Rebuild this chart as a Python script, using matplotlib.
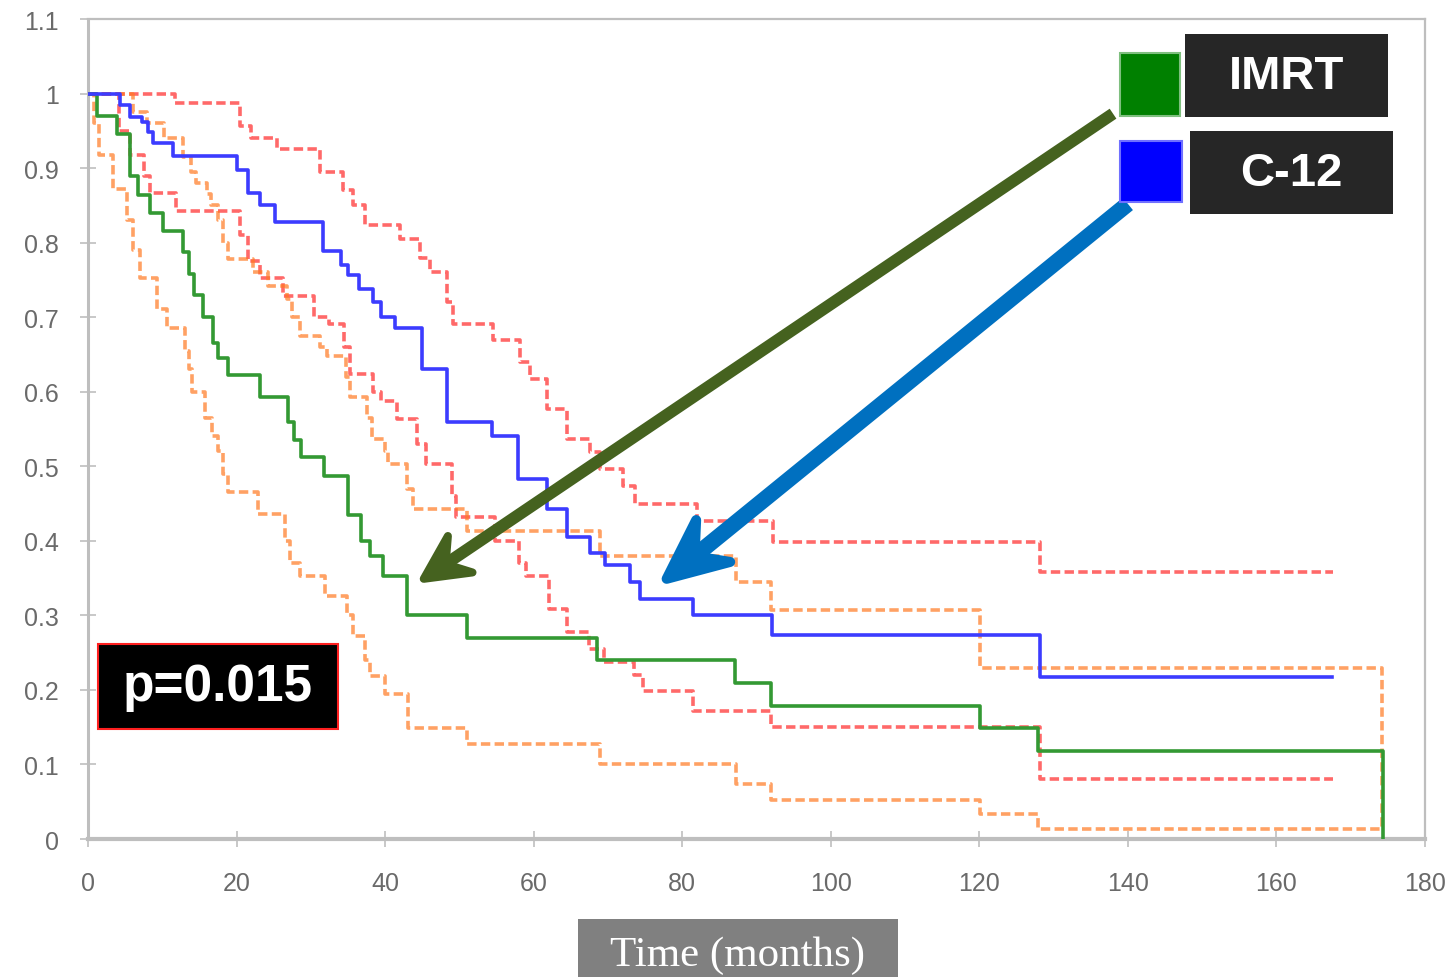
import numpy as np
import matplotlib.pyplot as plt
from matplotlib.patches import Rectangle, Polygon

plt.rcParams['font.family'] = ['Liberation Sans', 'DejaVu Sans']

# Kaplan-Meier estimates (months, survival) with confidence limits
imrt_t = [0, 1.2, 3.9, 5.7, 6.7, 8.3, 10.1, 12.8, 13.6, 14.3, 15.5, 16.8, 17.5, 18.8, 23.2, 26.9,
          27.7, 28.7, 31.8, 35.0, 36.8, 37.9, 39.7, 43.0, 51.0, 68.5, 87.1, 92.0, 120.1, 127.9, 174.3]
imrt_s = [1.0, 0.97, 0.946, 0.89, 0.864, 0.84, 0.815, 0.788, 0.758, 0.73, 0.70, 0.665, 0.645, 0.622, 0.593, 0.56,
          0.535, 0.513, 0.487, 0.434, 0.40, 0.38, 0.353, 0.30, 0.27, 0.24, 0.209, 0.179, 0.149, 0.118, 0.0]

imrt_hi_t = [0, 6.1, 7.9, 10.2, 12.8, 13.9, 14.6, 16.0, 16.5, 17.5, 18.2, 18.8, 22.2, 24.2, 26.8, 27.5, 28.5,
             31.3, 32.2, 34.7, 35.3, 37.5, 38.3, 40.0, 40.4, 43.0, 43.8, 51.0, 68.9, 87.2, 92.0, 120.1, 174.2]
imrt_hi_s = [1.0, 0.975, 0.96, 0.94, 0.915, 0.895, 0.88, 0.865, 0.85, 0.83, 0.80, 0.778, 0.76, 0.742, 0.725, 0.70, 0.675,
             0.66, 0.648, 0.62, 0.593, 0.565, 0.537, 0.52, 0.503, 0.47, 0.443, 0.413, 0.38, 0.345, 0.307, 0.23, 0.013]

imrt_lo_t = [0, 0.8, 1.5, 3.4, 5.3, 6.1, 7.0, 9.3, 10.6, 13.1, 13.6, 14.0, 15.8, 16.7, 17.5, 18.2, 18.8, 22.9,
             26.5, 27.2, 28.5, 31.9, 34.9, 35.7, 37.3, 38.0, 40.0, 43.1, 51.0, 68.9, 87.2, 92.0, 120.1, 127.9, 174.2]
imrt_lo_s = [1.0, 0.96, 0.917, 0.872, 0.83, 0.79, 0.752, 0.711, 0.685, 0.655, 0.63, 0.60, 0.565, 0.54, 0.52, 0.49, 0.466, 0.436,
             0.40, 0.37, 0.353, 0.326, 0.30, 0.272, 0.24, 0.219, 0.195, 0.149, 0.128, 0.10, 0.074, 0.052, 0.034, 0.013, 0.013]

c12_t = [0, 4.3, 5.7, 7.3, 8.1, 8.7, 11.4, 20.1, 21.5, 23.2, 25.2, 31.6, 34.0, 35.0, 36.5, 38.4, 39.5, 41.3,
         45.0, 48.3, 54.4, 57.9, 61.8, 64.5, 67.6, 69.6, 73.0, 74.3, 81.4, 92.1, 128.2, 167.5]
c12_s = [1.0, 0.985, 0.969, 0.962, 0.949, 0.933, 0.916, 0.897, 0.866, 0.85, 0.828, 0.789, 0.77, 0.756, 0.738, 0.72, 0.70, 0.685,
         0.631, 0.56, 0.541, 0.483, 0.443, 0.405, 0.383, 0.367, 0.345, 0.322, 0.30, 0.273, 0.217, 0.217]

c12_hi_t = [0, 11.7, 20.5, 22.0, 25.5, 31.2, 34.3, 35.7, 37.3, 42.0, 44.7, 46.0, 48.3, 49.1, 54.5, 58.2, 59.5,
            61.8, 64.5, 67.6, 68.9, 72.0, 73.6, 82.0, 92.2, 128.2, 167.6]
c12_hi_s = [1.0, 0.987, 0.957, 0.94, 0.926, 0.895, 0.87, 0.85, 0.823, 0.805, 0.78, 0.761, 0.72, 0.691, 0.669, 0.64, 0.617,
            0.577, 0.537, 0.519, 0.497, 0.474, 0.45, 0.427, 0.399, 0.358, 0.358]

c12_lo_t = [0, 4.2, 5.7, 7.5, 8.3, 11.8, 20.5, 21.5, 23.2, 26.2, 30.4, 32.5, 34.5, 35.3, 38.4, 39.5, 41.6, 44.3,
            45.5, 49.0, 49.5, 54.8, 58.0, 59.0, 62.0, 64.5, 67.5, 69.5, 73.5, 74.7, 81.4, 92.0, 128.2, 167.6]
c12_lo_s = [1.0, 0.95, 0.918, 0.89, 0.866, 0.842, 0.81, 0.776, 0.752, 0.729, 0.70, 0.691, 0.66, 0.624, 0.60, 0.588, 0.564, 0.53,
            0.503, 0.46, 0.432, 0.40, 0.37, 0.353, 0.309, 0.278, 0.255, 0.238, 0.22, 0.199, 0.172, 0.150, 0.081, 0.081]

x_ticks = [0, 20, 40, 60, 80, 100, 120, 140, 160, 180]
y_ticks = [0, 0.1, 0.2, 0.3, 0.4, 0.5, 0.6, 0.7, 0.8, 0.9, 1.0, 1.1]
y_labels = ['0', '0.1', '0.2', '0.3', '0.4', '0.5', '0.6', '0.7', '0.8', '0.9', '1', '1.1']

W, H = 1453, 978
fig = plt.figure(figsize=(W / 100, H / 100), dpi=100)
ax = fig.add_axes([88 / W, 1 - 840 / H, (1425 - 88) / W, (840 - 20) / H])
ax.set_xlim(0, 180)
ax.set_ylim(0, 1.1)

ci_kw = dict(where='post', lw=2.6, alpha=0.7, dashes=(2.6, 1.2), zorder=3)
ax.step(c12_hi_t, c12_hi_s, color='#FF2A2A', **ci_kw)
ax.step(c12_lo_t, c12_lo_s, color='#FF2A2A', **ci_kw)
ax.step(imrt_hi_t, imrt_hi_s, color='#FF7A22', **ci_kw)
ax.step(imrt_lo_t, imrt_lo_s, color='#FF7A22', **ci_kw)
ax.step(imrt_t, imrt_s, where='post', color='#339933', lw=2.6, zorder=4)
ax.step(c12_t, c12_s, where='post', color='#3C3CFF', lw=2.6, zorder=4)

ax.set_xticks(x_ticks)
ax.set_yticks(y_ticks)
ax.set_yticklabels(y_labels)
ax.tick_params(direction='inout', length=12, width=1.4, color='#C8C8C8',
               labelcolor='#6A6A6A', labelsize=18)
ax.tick_params(axis='x', pad=17)
ax.tick_params(axis='y', pad=15)
for side, lw in [('left', 2.2), ('bottom', 3.0), ('top', 1.6), ('right', 1.6)]:
    ax.spines[side].set_color('#BEBEBE')
    ax.spines[side].set_linewidth(lw)


def fat_arrow(tail, tip, color, shaft_px, head_len, head_half, edge_px):
    tr = ax.transData
    p0 = tr.transform(tail)
    p1 = tr.transform(tip)
    d = (p1 - p0) / np.hypot(*(p1 - p0))
    n = np.array([-d[1], d[0]])
    base = p1 - d * head_len
    notch = p1 - d * head_len * 0.6
    head = np.array([p1, base + n * head_half, notch, base - n * head_half])
    inv = tr.inverted()
    ax.add_patch(Polygon(inv.transform(head), closed=True, fc=color, ec=color,
                         lw=edge_px * 0.72, joinstyle='round', clip_on=False, zorder=6))
    end = inv.transform(notch + d * 2)
    ax.plot([tail[0], end[0]], [tail[1], end[1]], color=color, lw=shaft_px * 0.72,
            solid_capstyle='butt', clip_on=False, zorder=6)


fat_arrow((138.0, 0.973), (45.2, 0.349), '#45621F', 12, 44, 22, 8)
fat_arrow((140.0, 0.852), (77.9, 0.349), '#0070C0', 16, 60, 27, 10)


def px_rect(x0, y0, x1, y1, **kw):
    fig.add_artist(Rectangle((x0 / W, 1 - y1 / H), (x1 - x0) / W, (y1 - y0) / H,
                             transform=fig.transFigure, **kw))


# legend swatches and labels
px_rect(1120, 54, 1180, 117, fc='#008000', ec='#7FBF7F', lw=1.5)
px_rect(1120, 142, 1182, 203, fc='#0000FF', ec='#7070FF', lw=1.5)
px_rect(1185, 35, 1388, 118, fc='#262626', ec='none')
px_rect(1190, 132, 1393, 215, fc='#262626', ec='none')
fig.text(1286.5 / W, 1 - 77 / H, 'IMRT', color='white', fontsize=34, fontweight='bold',
         ha='center', va='center')
fig.text(1291.5 / W, 1 - 174 / H, 'C-12', color='white', fontsize=34, fontweight='bold',
         ha='center', va='center')

# log-rank p value
px_rect(98, 645, 338, 730, fc='black', ec='#FF2020', lw=1.5)
fig.text(218 / W, 1 - 688 / H, 'p=0.015', color='white', fontsize=37, fontweight='bold',
         ha='center', va='center')

# x axis title
px_rect(578, 920, 898, 990, fc='#808080', ec='none')
fig.text(738 / W, 1 - 966 / H, 'Time (months)', color='white', fontsize=31,
         family='Liberation Serif', ha='center', va='baseline')

fig.savefig('out.png', dpi=100)
